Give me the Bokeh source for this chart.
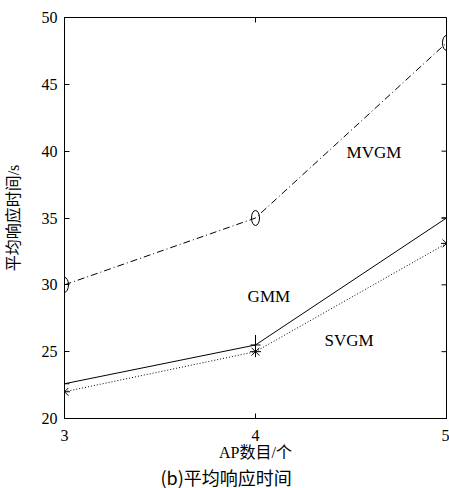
from bokeh.plotting import figure
from bokeh.models import FixedTicker, Title, Label
from bokeh.embed import file_html
from bokeh.resources import INLINE

ap = [3, 4, 5]
mvgm = [30.0, 35.0, 48.1]
gmm = [22.6, 25.5, 35.0]
svgm = [22.0, 25.0, 33.1]
x_ticks = [3, 4, 5]
y_ticks = [20, 25, 30, 35, 40, 45, 50]

p = figure(width=449, height=488, output_backend="svg", toolbar_location=None,
           x_range=(3, 5), y_range=(20, 50),
           min_border_left=64, min_border_right=3, min_border_top=17, min_border_bottom=70)
p.grid.visible = False
p.outline_line_color = "black"
p.outline_line_width = 1
p.background_fill_color = "white"
p.border_fill_color = "white"

serif = "Liberation Serif"
mixed = "'Liberation Serif', 'Noto Sans CJK SC'"
cjk = "Noto Sans CJK SC"

for ax in (p.xaxis[0], p.yaxis[0]):
    ax.major_tick_in = 5
    ax.major_tick_out = 0
    ax.minor_tick_in = 0
    ax.minor_tick_out = 0
    ax.axis_line_color = "black"
    ax.major_tick_line_color = "black"
    ax.major_label_text_font = serif
    ax.major_label_text_font_size = "16px"
    ax.major_label_text_color = "black"
    ax.axis_label_text_font = mixed
    ax.axis_label_text_font_size = "16px"
    ax.axis_label_text_font_style = "normal"
    ax.axis_label_text_color = "black"

p.xaxis[0].ticker = FixedTicker(ticks=x_ticks)
p.yaxis[0].ticker = FixedTicker(ticks=y_ticks)
p.xaxis[0].axis_label = "AP数目/个"
p.yaxis[0].axis_label = "平均响应时间/s"
p.xaxis[0].major_label_standoff = 11
p.xaxis[0].axis_label_standoff = 0
p.yaxis[0].major_label_standoff = 7
p.yaxis[0].axis_label_standoff = 17

# inward ticks on the right and top edges (half of each dash is clipped by the frame)
p.scatter([x_ticks[-1]] * len(y_ticks), y_ticks, marker="dash", size=10,
          line_color="black", line_width=1)
p.scatter(x_ticks[1:2], [y_ticks[-1]], marker="dash", angle=1.5708, size=10,
          line_color="black", line_width=1)

p.line(ap, mvgm, line_color="black", line_width=1, line_dash="7 3 1 3")
p.ellipse(ap, mvgm, width=8, height=15, width_units="screen", height_units="screen",
          fill_color=None, line_color="black", line_width=1)
p.line(ap, gmm, line_color="black", line_width=1)
p.scatter(ap, gmm, marker="cross", size=10, line_color="black", line_width=1)
p.scatter(ap, gmm, marker="dash", angle=1.5708, size=20, line_color="black", line_width=1)
p.line(ap, svgm, line_color="black", line_width=1, line_dash="1 2")
p.scatter(ap, svgm, marker="asterisk", size=11, line_color="black", line_width=1)

for txt, x, y in [("MVGM", 4.62, 39.9), ("GMM", 4.07, 29.15), ("SVGM", 4.49, 25.85)]:
    p.add_layout(Label(x=x, y=y, text=txt, text_font=serif, text_font_size="17px",
                       text_color="black", text_align="center", text_baseline="middle"))

cap = Title(text="(b)平均响应时间", align="left", offset=96, standoff=-4, text_font=cjk,
            text_font_size="18px", text_font_style="normal", text_color="black")
p.add_layout(cap, "below")

open("out.html", "w").write(file_html(p, INLINE))
